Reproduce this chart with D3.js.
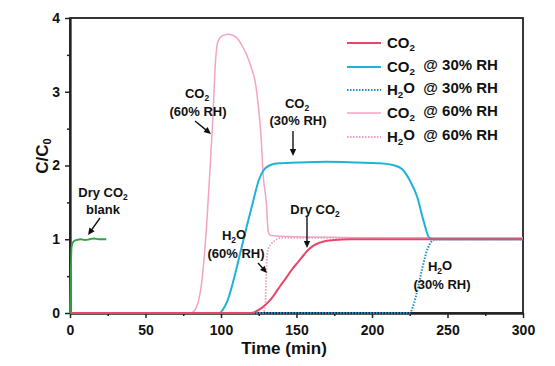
<!DOCTYPE html>
<html><head><meta charset="utf-8">
<script src="https://cdn.jsdelivr.net/npm/d3@7"></script>
<style>
body{margin:0;background:#fff;}
svg{display:block;font-family:"Liberation Sans",Arial,sans-serif;font-weight:bold;}
</style></head>
<body><svg id="c" width="555" height="366"></svg>
<script>
// ---- data ----
const xTicks = [0, 50, 100, 150, 200, 250, 300];
const yTicks = [0, 1, 2, 3, 4];

const blankT = [0, 0.5, 1, 1.5, 2, 3, 4.5, 7, 10, 13, 16, 19, 22, 24];
const blankV = [0, 0.5, 0.88, 0.94, 0.96, 0.98, 0.99, 1.0, 0.99, 1.0, 1.01, 1.0, 1.0, 1.0];

const co2DryT = [0, 120, 123, 127, 131, 135, 139, 143.6, 147, 151, 155, 158, 161, 165, 170, 175, 185, 200, 220, 240, 260, 280, 300];
const co2DryV = [0, 0, 0.02, 0.07, 0.14, 0.24, 0.36, 0.49, 0.59, 0.69, 0.79, 0.86, 0.91, 0.95, 0.98, 0.99, 1.0, 1.0, 1.0, 1.0, 1.0, 1.0, 1.0];

const co2RH30T = [0, 99, 101, 104, 108, 112.6, 117, 121, 125, 128, 132, 138, 150, 170, 190, 205, 215, 220, 225, 230, 234, 238, 241, 250, 270, 300];
const co2RH30V = [0, 0, 0.04, 0.15, 0.42, 0.80, 1.17, 1.49, 1.80, 1.93, 2.0, 2.03, 2.04, 2.05, 2.04, 2.03, 2.0, 1.95, 1.80, 1.57, 1.26, 1.02, 1.0, 1.0, 1.0, 1.0];

const h2oRH30T = [0, 225, 227, 229, 231, 233, 235, 237, 239, 242, 250, 270, 300];
const h2oRH30V = [0, 0, 0.08, 0.22, 0.40, 0.58, 0.75, 0.88, 0.96, 1.0, 1.0, 1.0, 1.0];

const co2RH60T = [0, 80, 83, 87.4, 90.7, 92.7, 94.5, 96.5, 98, 101, 105, 110, 114.6, 117, 120.5, 122.5, 124.5, 126.5, 128, 130, 131.3, 133, 140, 160, 200, 250, 300];
const co2RH60V = [0, 0, 0.05, 0.45, 1.26, 1.94, 2.6, 3.45, 3.68, 3.76, 3.78, 3.74, 3.6, 3.5, 3.3, 3.15, 2.85, 2.4, 1.85, 1.5, 1.1, 1.05, 1.04, 1.03, 1.02, 1.02, 1.02];

const h2oRH60T = [0, 128, 129.3, 129.8, 130.3, 131, 133, 135, 140, 160, 200, 250, 300];
const h2oRH60V = [0, 0, 0.1, 0.4, 0.7, 0.85, 0.93, 0.97, 1.02, 1.02, 1.02, 1.02, 1.02];

const colors = {dry:"#e5486a", rh30:"#1fb2d8", h2o30:"#2090c8", rh60:"#f2a4c4", h2o60:"#ee9cc0", blank:"#35a045"};

// ---- setup ----
const svg = d3.select("#c");
const x = d3.scaleLinear().domain([0, 300]).range([70, 523]);
const y = d3.scaleLinear().domain([0, 4]).range([313, 18]);

function rich(sel, parts){
  parts.forEach(p=>{
    if(p[1]){
      sel.append("tspan").attr("font-size","0.65em").attr("dy","0.3em").text(p[0]);
    } else {
      const t = sel.append("tspan").text(p[0]);
      if(p[2]) t.attr("dy", p[2]);
    }
  });
  return sel;
}

// frame
svg.append("rect").attr("x", x(0)).attr("y", y(4)).attr("width", x(300)-x(0)).attr("height", y(0)-y(4))
  .attr("fill","none").attr("stroke","#222").attr("stroke-width",1.8);

// axes
const gx = svg.append("g").attr("transform",`translate(0,${y(0)})`)
  .call(d3.axisBottom(x).tickValues(xTicks).tickSize(5).tickPadding(7).tickSizeOuter(0).tickFormat(d3.format("d")));
const gxm = svg.append("g").attr("transform",`translate(0,${y(0)})`)
  .call(d3.axisBottom(x).tickValues(d3.range(25,300,50)).tickSize(3).tickFormat("").tickSizeOuter(0));
const gy = svg.append("g").attr("transform",`translate(${x(0)},0)`)
  .call(d3.axisLeft(y).tickValues(yTicks).tickSize(5).tickPadding(5).tickSizeOuter(0).tickFormat(d3.format("d")));
const gym = svg.append("g").attr("transform",`translate(${x(0)},0)`)
  .call(d3.axisLeft(y).tickValues(d3.range(0.5,4,1)).tickSize(3).tickFormat("").tickSizeOuter(0));
[gx,gxm,gy,gym].forEach(g=>{
  g.select(".domain").attr("stroke","#222").attr("stroke-width",1.8);
  g.selectAll(".tick line").attr("stroke","#222").attr("stroke-width",1.5);
  g.selectAll(".tick text").attr("font-size",14).attr("font-weight","bold").attr("fill","#111")
    .attr("font-family","Liberation Sans, Arial, sans-serif");
});

// axis titles
svg.append("text").attr("x",284).attr("y",354).attr("text-anchor","middle").attr("font-size",17).attr("fill","#111").text("Time (min)");
const yt = svg.append("text").attr("transform","translate(48,156) rotate(-90)").attr("text-anchor","middle").attr("font-size",17).attr("fill","#111");
rich(yt, [["C/C",false],["0",true]]);

// lines
const line = d3.line().x(d=>x(d[0])).y(d=>y(d[1])).curve(d3.curveMonotoneX);
function zip(t,v){return t.map((d,i)=>[d,v[i]]);}
function draw(t,v,color,w,dash){
  const p = svg.append("path").datum(zip(t,v)).attr("d",line).attr("fill","none")
    .attr("stroke",color).attr("stroke-width",w).attr("stroke-linejoin","round");
  if(dash) p.attr("stroke-dasharray",dash);
}
draw(co2RH60T, co2RH60V, colors.rh60, 1.5);
draw(h2oRH60T, h2oRH60V, colors.h2o60, 1.8, "1.5,1.5");
draw(co2RH30T, co2RH30V, colors.rh30, 2);
draw(h2oRH30T, h2oRH30V, colors.h2o30, 2, "1.5,1.5");
draw(co2DryT, co2DryV, colors.dry, 2);
draw(blankT, blankV, colors.blank, 1.8);

// legend
const legend = [
  {c:colors.dry, w:2, dash:null, parts:[["CO",false],["2",true]]},
  {c:colors.rh30, w:2, dash:null, parts:[["CO",false],["2",true],["\u00a0\u00a0@ 30% RH",false,"-0.3em"]]},
  {c:colors.h2o30, w:2, dash:"1.5,1.5", parts:[["H",false],["2",true],["O\u00a0\u00a0@ 30% RH",false,"-0.3em"]]},
  {c:colors.rh60, w:1.5, dash:null, parts:[["CO",false],["2",true],["\u00a0\u00a0@ 60% RH",false,"-0.3em"]]},
  {c:colors.h2o60, w:1.8, dash:"1.5,1.5", parts:[["H",false],["2",true],["O\u00a0\u00a0@ 60% RH",false,"-0.3em"]]}
];
const legY = [43, 67, 90, 113, 137];
legend.forEach((d,i)=>{
  const l = svg.append("line").attr("x1",347).attr("x2",381).attr("y1",legY[i]).attr("y2",legY[i])
    .attr("stroke",d.c).attr("stroke-width",d.w);
  if(d.dash) l.attr("stroke-dasharray",d.dash);
  const t = svg.append("text").attr("x",387).attr("y",legY[i]+5).attr("font-size",15).attr("fill","#111");
  rich(t, d.parts);
});

// annotations
function label(cx, cy, parts, size){
  const t = svg.append("text").attr("x",cx).attr("y",cy).attr("text-anchor","middle").attr("font-size",size||13).attr("fill","#111");
  rich(t, parts);
}
function arrow(x1,y1,x2,y2){
  const ang = Math.atan2(y2-y1,x2-x1), L=7, W=3.2;
  svg.append("line").attr("x1",x1).attr("y1",y1).attr("x2",x2-Math.cos(ang)*5).attr("y2",y2-Math.sin(ang)*5)
    .attr("stroke","#111").attr("stroke-width",1.4);
  const bx = x2-Math.cos(ang)*L, by = y2-Math.sin(ang)*L;
  svg.append("path").attr("d",`M${x2},${y2}L${bx-Math.sin(ang)*W},${by+Math.cos(ang)*W}L${bx+Math.sin(ang)*W},${by-Math.cos(ang)*W}Z`).attr("fill","#111");
}
label(197, 98, [["CO",false],["2",true]]);
label(198, 116, [["(60% RH)",false]]);
arrow(195, 121, 211, 134);

label(297, 108, [["CO",false],["2",true]]);
label(298, 125, [["(30% RH)",false]]);
arrow(293, 131, 293, 156);

label(103, 197, [["Dry CO",false],["2",true]]);
label(103, 214, [["blank",false]]);
arrow(100, 218, 88, 235);

label(234, 240, [["H",false],["2",true],["O",false,"-0.3em"]]);
label(236, 258, [["(60% RH)",false]]);
arrow(258, 263, 267, 273);

label(315, 214, [["Dry CO",false],["2",true]]);
arrow(307, 217, 307, 248);

label(440, 271, [["H",false],["2",true],["O",false,"-0.3em"]]);
label(442, 289, [["(30% RH)",false]]);
</script></body></html>
